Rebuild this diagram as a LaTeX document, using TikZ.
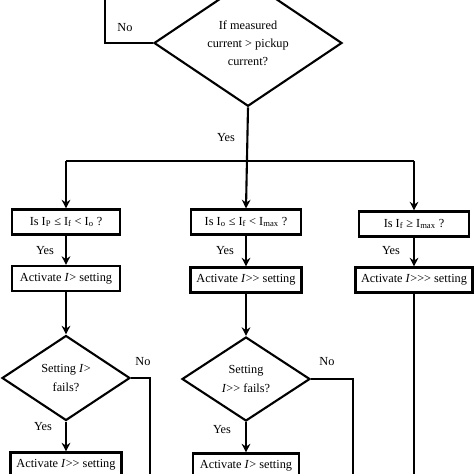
\documentclass[tikz,border=0pt]{standalone}
\usepackage{fontspec}
\setmainfont{Liberation Serif}[Ligatures=TeXOff]
\usepackage{tikz}
\usetikzlibrary{shapes.geometric,arrows.meta}
\tikzset{
  flowline/.style={draw=black, line width=1.8pt},
  flowarrow/.style={draw=black, line width=1.8pt, -{Stealth[length=2.6mm,width=2.6mm]}},
  testbox/.style={draw=black, line width=1.8pt, minimum width=32.4mm, minimum height=7.5mm, inner sep=0pt, font=\fontsize{10.5}{12}\selectfont},
  decide/.style={diamond, draw=black, line width=1.8pt, inner sep=0pt, align=center, font=\fontsize{10.5}{15.5}\selectfont},
  lab/.style={font=\fontsize{10.5}{12}\selectfont, inner sep=0pt},
}

\begin{document}
\begin{tikzpicture}[x=0.3mm,y=-0.3mm]
  \useasboundingbox (0,0) rectangle (474,474);

  \node[decide, minimum width=56.4mm, minimum height=37.8mm] (pick) at (248,43) {If measured\\current > pickup\\current?};
  \coordinate (noTurn) at (105,43);
  \coordinate (noTop) at (105,-5);
  \coordinate (split) at (248,161);

  \node[testbox] (isA) at (66,222) {Is I\textsubscript{P} ≤ I\textsubscript{f} < I\textsubscript{o} ?};
  \node[testbox, minimum width=33mm] (isB) at (246,222) {Is I\textsubscript{o} ≤ I\textsubscript{f} < I\textsubscript{max} ?};
  \node[testbox, minimum width=33mm] (isC) at (414,224) {Is I\textsubscript{f} ≥ I\textsubscript{max} ?};

  \node[testbox] (actA) at (66,278.5) {Activate \textit{I}> setting};
  \node[testbox, minimum width=33.3mm] (actB) at (246,280) {Activate \textit{I}>> setting};
  \node[testbox, minimum width=35.1mm] (actC) at (414,280) {Activate \textit{I}>>> setting};

  \node[decide, minimum width=38.4mm, minimum height=25.5mm] (failA) at (66,378) {Setting \textit{I}>\\fails?};
  \node[decide, minimum width=38.4mm, minimum height=25.2mm] (failB) at (246,379) {Setting\\\textit{I}>> fails?};

  \node[testbox, minimum width=33.3mm] (nextA) at (66,465) {Activate \textit{I}>> setting};
  \node[testbox, minimum width=31.8mm] (nextB) at (246,466) {Activate \textit{I}> setting};

  \coordinate (noA) at (150,378);
  \coordinate (noAend) at (150,480);
  \coordinate (noB) at (353,379);
  \coordinate (noBend) at (353,480);
  \coordinate (actCend) at (414,480);

  \draw[flowline] (pick.west) -- (noTurn) -- (noTop);
  \draw[flowarrow] (pick.south) -- (isB.north);
  \draw[flowline] (isA.north |- split) -- (isC.north |- split);
  \draw[flowarrow] (isA.north |- split) -- (isA.north);
  \draw[flowarrow] (isC.north |- split) -- (isC.north);

  \draw[flowarrow] (isA) -- (actA);
  \draw[flowarrow] (isB) -- (actB);
  \draw[flowarrow] (isC) -- (actC);

  \draw[flowarrow] (actA) -- (failA.north);
  \draw[flowarrow] (actB) -- (failB.north);
  \draw[flowline] (actC) -- (actCend);

  \draw[flowarrow] (failA.south) -- (nextA.north);
  \draw[flowarrow] (failB.south) -- (nextB.north);
  \draw[flowline] (failA.east) -- (noA) -- (noAend);
  \draw[flowline] (failB.east) -- (noB) -- (noBend);

  \node[lab] (noPick) at (125,28) {No};
  \node[lab] (yesPick) at (226,138) {Yes};
  \node[lab] (yesA) at (45,251) {Yes};
  \node[lab] (yesB) at (225,251) {Yes};
  \node[lab] (yesC) at (391,251) {Yes};
  \node[lab] (noFailA) at (143,362) {No};
  \node[lab] (noFailB) at (327,362) {No};
  \node[lab] (yesFailA) at (43,427) {Yes};
  \node[lab] (yesFailB) at (222,430) {Yes};
\end{tikzpicture}
\end{document}
